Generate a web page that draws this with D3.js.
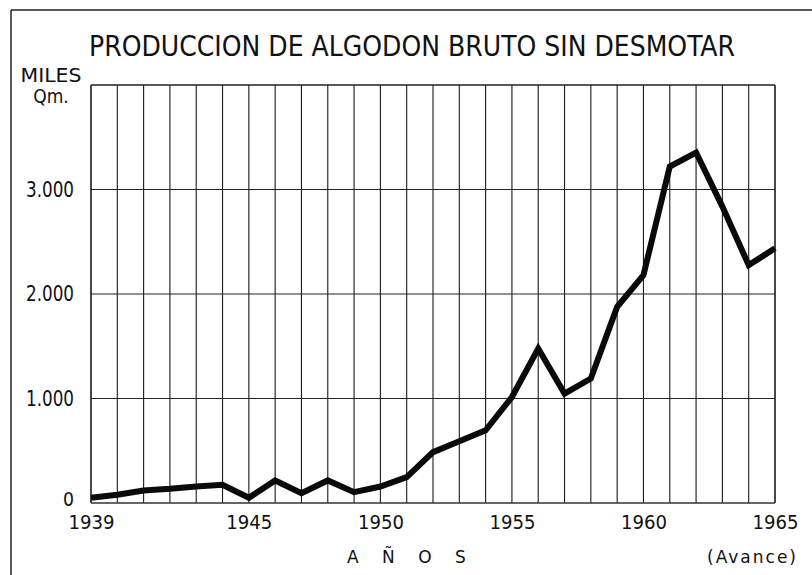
<!DOCTYPE html>
<html>
<head>
<meta charset="utf-8">
<script src="https://cdn.jsdelivr.net/npm/d3@7"></script>
<style>
  body { margin: 0; background: #fff; }
  svg { display: block; }
  text { fill: #111; }
</style>
</head>
<body>
<svg id="chart" width="812" height="575"></svg>
<script>
// años y produccion (miles Qm.)
const years = [1939, 1940, 1941, 1942, 1943, 1944, 1945, 1946, 1947, 1948, 1949, 1950, 1951, 1952,
               1953, 1954, 1955, 1956, 1957, 1958, 1959, 1960, 1961, 1962, 1963, 1964, 1965];
const production = [50, 79, 120, 136, 158, 174, 50, 216, 94, 216, 104, 158, 247, 487,
                    590, 695, 1014, 1478, 1047, 1191, 1877, 2181, 3220, 3354, 2836, 2277, 2437];
const yTicks = [0, 1000, 2000, 3000];
const xTicks = [1939, 1945, 1950, 1955, 1960, 1965];
const gridLevels = [1000, 2000, 3000, 4000];

const svg = d3.select('#chart');
const font = '"DejaVu Sans Condensed", "DejaVu Sans", sans-serif';

const x = d3.scaleLinear().domain([1939, 1965]).range([91, 775]);
const y = d3.scaleLinear().domain([0, 4000]).range([503, 85]);

// marco de la pagina
svg.append('line')
    .attr('x1', 11).attr('y1', 10).attr('x2', 812).attr('y2', 10)
    .attr('stroke', '#222').attr('stroke-width', 1.5);
svg.append('line')
    .attr('x1', 11).attr('y1', 10).attr('x2', 11).attr('y2', 575)
    .attr('stroke', '#222').attr('stroke-width', 1.5);

// cuadricula
svg.append('g')
    .selectAll('line')
    .data(years)
    .enter()
    .append('line')
    .attr('x1', d => x(d)).attr('x2', d => x(d))
    .attr('y1', y(4000)).attr('y2', y(0))
    .attr('stroke', '#1a1a1a')
    .attr('stroke-width', (d, i) => (i === 0 || i === years.length - 1) ? 1.6 : 1.1);

svg.append('g')
    .selectAll('line')
    .data(gridLevels)
    .enter()
    .append('line')
    .attr('x1', x(1939)).attr('x2', x(1965))
    .attr('y1', d => y(d)).attr('y2', d => y(d))
    .attr('stroke', '#222')
    .attr('stroke-width', d => d === 4000 ? 1.4 : 1);

svg.append('line')
    .attr('x1', x(1939)).attr('x2', x(1965))
    .attr('y1', y(0)).attr('y2', y(0))
    .attr('stroke', '#333').attr('stroke-width', 1.3);

// ejes
const fmtY = d => d === 0 ? '0' : d3.format(',')(d).replace(',', '.');
const yAxis = d3.axisLeft(y)
    .tickValues(yTicks)
    .tickSize(0)
    .tickPadding(17)
    .tickFormat(fmtY);
svg.append('g')
    .attr('transform', `translate(${x(1939)},0)`)
    .call(yAxis)
    .call(g => g.select('.domain').remove())
    .selectAll('text')
    .attr('font-family', font)
    .attr('font-size', d => d === 0 ? 20 : 22)
    .attr('dy', d => d === 0 ? '0.1em' : '0.3em')
    .attr('textLength', d => d === 0 ? 11 : 48)
    .attr('lengthAdjust', 'spacingAndGlyphs')
    .attr('fill', '#111');

const xAxis = d3.axisBottom(x)
    .tickValues(xTicks)
    .tickSize(0)
    .tickPadding(11.3)
    .tickFormat(d3.format('d'));
svg.append('g')
    .attr('transform', `translate(0,${y(0)})`)
    .call(xAxis)
    .call(g => g.select('.domain').remove())
    .selectAll('text')
    .attr('font-family', font)
    .attr('font-size', 20)
    .attr('textLength', 46)
    .attr('lengthAdjust', 'spacingAndGlyphs')
    .attr('fill', '#111');

// linea de produccion
const line = d3.line()
    .x((d, i) => x(years[i]))
    .y(d => y(d));
svg.append('path')
    .datum(production)
    .attr('d', line)
    .attr('fill', 'none')
    .attr('stroke', '#0a0a0a')
    .attr('stroke-width', 6)
    .attr('stroke-linejoin', 'miter');

// textos
svg.append('text')
    .attr('x', 89).attr('y', 56)
    .attr('font-family', font)
    .attr('font-size', 28)
    .attr('textLength', 646)
    .attr('lengthAdjust', 'spacingAndGlyphs')
    .text('PRODUCCION DE ALGODON BRUTO SIN DESMOTAR');

svg.append('text')
    .attr('x', 51).attr('y', 82)
    .attr('text-anchor', 'middle')
    .attr('font-family', font)
    .attr('font-size', 20)
    .attr('textLength', 61)
    .attr('lengthAdjust', 'spacingAndGlyphs')
    .text('MILES');
svg.append('text')
    .attr('x', 51).attr('y', 103)
    .attr('text-anchor', 'middle')
    .attr('font-family', font)
    .attr('font-size', 19)
    .text('Qm.');

svg.append('text')
    .attr('x', 347).attr('y', 563)
    .attr('font-family', '"DejaVu Sans", sans-serif')
    .attr('font-size', 17)
    .attr('letter-spacing', 9)
    .text('A Ñ O S');

svg.append('text')
    .attr('x', 798).attr('y', 563)
    .attr('text-anchor', 'end')
    .attr('font-family', '"DejaVu Sans", sans-serif')
    .attr('font-size', 17)
    .attr('letter-spacing', 2)
    .text('(Avance)');
</script>
</body>
</html>
